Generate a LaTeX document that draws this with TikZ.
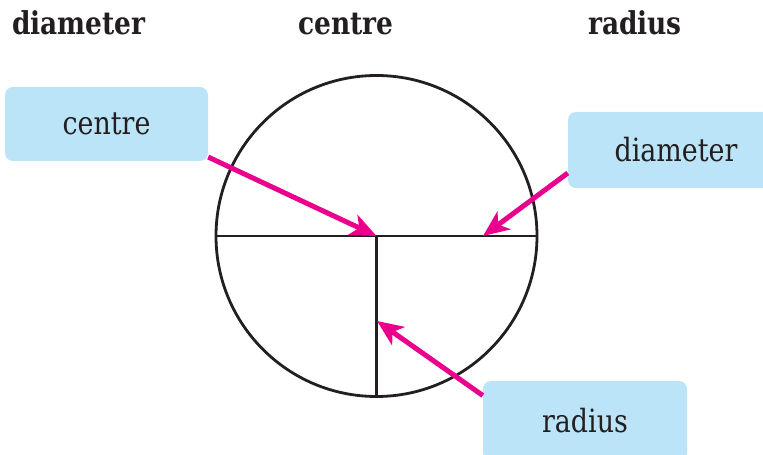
\documentclass[tikz,border=0pt]{standalone}
\usepackage{fontspec}
\setmainfont[FakeStretch=0.84]{DejaVu Serif}
\usetikzlibrary{arrows.meta, positioning, calc}
\definecolor{boxblue}{RGB}{187,228,248}
\definecolor{pink}{RGB}{234,0,140}
\definecolor{ink}{RGB}{35,31,32}
\tikzset{
  labelbox/.style={fill=boxblue, rounded corners=8pt, inner sep=0pt,
                   font=\fontsize{32}{37}\selectfont, text=ink},
  heading/.style={anchor=base, inner sep=0pt,
                  font=\fontsize{31.5}{36}\selectfont\bfseries, text=ink},
  pointer/.style={draw=pink, line width=5pt,
                  -{Stealth[length=26pt, width=22pt, inset=7pt]}}
}
\begin{document}
\begin{tikzpicture}[x=1pt, y=1pt]
  \useasboundingbox (0,0) rectangle (763,455);
  \clip (0,0) rectangle (763,455);
  % headings
  \node[heading] (hdiam) at (79,420) {diameter};
  \node[heading] (hcent) at (346,420) {centre};
  \node[heading] (hrad) at (635,420) {radius};
  % the circle
  \coordinate (ctr) at (376.5,219);
  \draw[ink, line width=2.8pt] (ctr) circle (160.5);
  \draw[ink, line width=2.8pt] ($(ctr)+(-160.5,0)$) -- ($(ctr)+(160.5,0)$);
  \draw[ink, line width=2.8pt] (ctr) -- ($(ctr)+(0,-160.5)$);
  % labels
  \node[labelbox, minimum width=203pt, minimum height=74pt]
    (centrebox) at (106.5,331) {centre};
  \node[labelbox, minimum width=216pt, minimum height=76pt]
    (diambox) at (676,305) {diameter};
  \node[labelbox, minimum width=204pt, minimum height=80pt]
    (radbox) at (585,34) {radius};
  \coordinate (dtip) at (483,219);
  \coordinate (rtip) at (377,134);
  % pointers
  \draw[pointer] (centrebox.-18) -- (ctr);
  \draw[pointer] (diambox.192) -- (dtip);
  \draw[pointer] (radbox.166) -- (rtip);
\end{tikzpicture}
\end{document}
